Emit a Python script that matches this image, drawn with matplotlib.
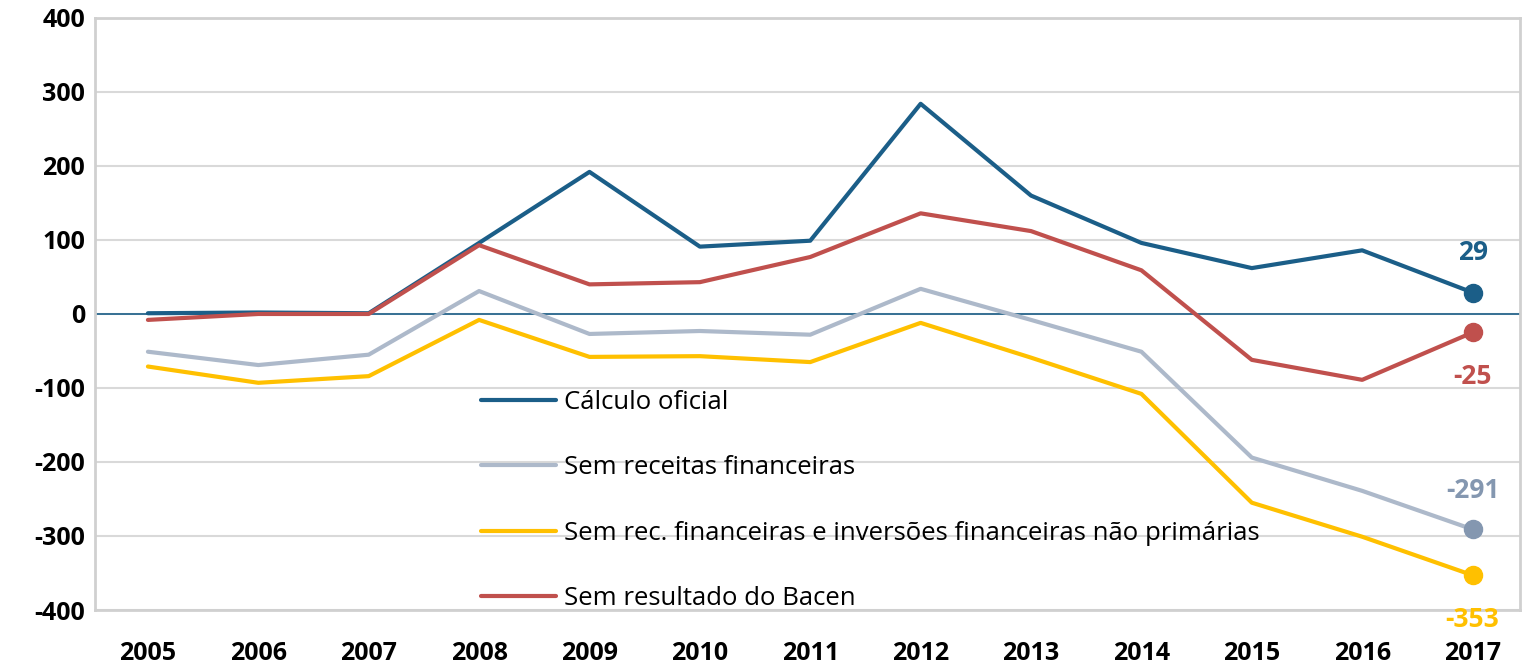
import matplotlib.pyplot as plt

years = list(range(2005, 2018))
oficial = [1, 2, 1, 96, 192, 91, 99, 284, 160, 96, 62, 86, 29]
sem_receitas = [-51, -69, -55, 31, -27, -23, -28, 34, -8, -51, -194, -239, -291]
sem_inversoes = [-71, -93, -84, -8, -58, -57, -65, -12, -59, -108, -255, -301, -353]
sem_bacen = [-8, 0, 0, 93, 40, 43, 77, 136, 112, 59, -62, -89, -25]

labels = ["Cálculo oficial", "Sem receitas financeiras",
          "Sem rec. financeiras e inversões financeiras não primárias",
          "Sem resultado do Bacen"]
series = [oficial, sem_receitas, sem_inversoes, sem_bacen]
colors = ["#1B5E88", "#ADB9CA", "#FFC000", "#C0504D"]
end_colors = ["#1B5E88", "#8497B0", "#FFC000", "#C0504D"]
label_offsets = [(0, 29), (0, 28), (0, -32), (0, -32)]

plt.rcParams['font.family'] = ['Open Sans', 'DejaVu Sans']
plt.rcParams['axes.unicode_minus'] = False

fig = plt.figure(figsize=(15.24, 6.65), dpi=100)
ax = fig.add_axes([0.0623, 0.0827, 0.9351, 0.8903])

for vals, lab, c in zip(series, labels, colors):
    ax.plot(years, vals, color=c, lw=3, label=lab, solid_capstyle='round')

for vals, c, off in zip(series, end_colors, label_offsets):
    ax.plot(years[-1], vals[-1], 'o', color=c, ms=13, zorder=5)
    ax.annotate(f"{vals[-1]}", (years[-1], vals[-1]), xytext=off,
                textcoords='offset points', ha='center', va='center',
                color=c, fontsize=19, fontweight='bold', annotation_clip=False, zorder=6)

ax.axhline(0, color="#1B5E88", lw=1.2, zorder=1)

ax.set_xlim(2004.52, 2017.43)
ax.set_ylim(-400, 400)
ax.set_yticks(range(-400, 401, 100))
ax.set_xticks(years)
ax.grid(axis='y', color='#D9D9D9', lw=1.5)
ax.set_axisbelow(True)
for s in ax.spines.values():
    s.set_color('#D0D0D0')
    s.set_linewidth(2)
ax.tick_params(length=0, labelsize=18)
ax.tick_params(axis='x', pad=22)
ax.tick_params(axis='y', pad=7)
for t in ax.get_xticklabels() + ax.get_yticklabels():
    t.set_fontweight('bold')

ax.legend(loc='upper left', bbox_to_anchor=(0.264, 0.389), frameon=False,
          fontsize=18.5, handlelength=2.9, handletextpad=0.3, labelspacing=1.57,
          borderaxespad=0)

fig.savefig('out.png', dpi=100)
